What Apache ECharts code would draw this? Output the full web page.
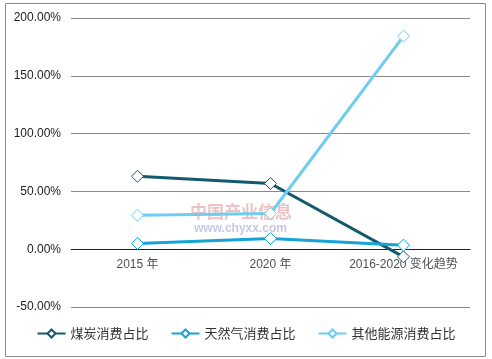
<!DOCTYPE html>
<html><head><meta charset="utf-8">
<script src="https://cdn.jsdelivr.net/npm/echarts@6/dist/echarts.min.js"></script>
<style>html,body{margin:0;padding:0;background:#fff}#c{width:492px;height:359px}</style>
</head><body><div id="c"></div>
<script>
var categories = ['2015 年', '2020 年', '2016-2020 变化趋势'];
var coal = [63.1, 56.8, -6.6];
var gas = [4.9, 9.2, 3.5];
var other = [29.4, 30.9, 184.3];
var seriesNames = ['煤炭消费占比', '天然气消费占比', '其他能源消费占比'];
var colors = ['#145a6e', '#16a4d8', '#6fcdf2'];
var yMin = -50, yMax = 200, yStep = 50;

var chart = echarts.init(document.getElementById('c'));
function mk(name, data, color) {
  return {
    name: name, type: 'line', data: data,
    symbol: 'diamond', symbolSize: 12,
    lineStyle: {color: color, width: 3},
    itemStyle: {color: '#fff', borderColor: color, borderWidth: 1},
    emphasis: {disabled: true}
  };
}
chart.setOption({
  animation: false,
  textStyle: {fontFamily: 'Liberation Sans, Arial, sans-serif'},
  graphic: [
    {type: 'rect', shape: {x: 5.5, y: 3.5, width: 480, height: 353}, style: {fill: 'none', stroke: '#8c8c8c', lineWidth: 1}, z: -1},
    {type: 'text', left: 190, top: 203, style: {text: '中国产业信息', fill: 'rgba(200,80,90,0.35)', font: 'bold 17px "Noto Sans CJK SC"'}, z: 0},
    {type: 'text', left: 194, top: 223, style: {text: 'www.chyxx.com', fill: 'rgba(90,100,180,0.35)', font: 'bold 12px "Liberation Sans"'}, z: 0}
  ],
  grid: {left: 71, right: 22, top: 18, bottom: 52},
  legend: {
    bottom: 14, left: 'center', itemWidth: 28, itemHeight: 10, itemGap: 22,
    textStyle: {fontSize: 13, color: '#333', fontFamily: 'Noto Sans CJK SC'},
    data: seriesNames
  },
  xAxis: {
    type: 'category', data: categories, boundaryGap: true,
    axisLine: {show: true, onZero: true, lineStyle: {color: '#222', width: 1}}, axisTick: {show: false},
    axisLabel: {show: false}
  },
  yAxis: {
    type: 'value', min: yMin, max: yMax, interval: yStep,
    axisLine: {show: false}, axisTick: {show: false},
    axisLabel: {fontSize: 12, color: '#222', margin: 10, formatter: function(v){return v.toFixed(2) + '%';}},
    splitLine: {lineStyle: {color: '#8a8a8a', width: 1}}
  },
  series: [
    {
      type: 'scatter', silent: true, symbolSize: 0, z: 1,
      data: categories.map(function(c){ return [c, 0]; }),
      label: {show: true, position: 'bottom', distance: 9, fontSize: 12, color: '#222',
        fontFamily: 'Liberation Sans, Noto Sans CJK SC',
        formatter: function(p){ return p.value[0]; }}
    },
    mk(seriesNames[0], coal, colors[0]),
    mk(seriesNames[1], gas, colors[1]),
    mk(seriesNames[2], other, colors[2])
  ]
});
</script></body></html>
